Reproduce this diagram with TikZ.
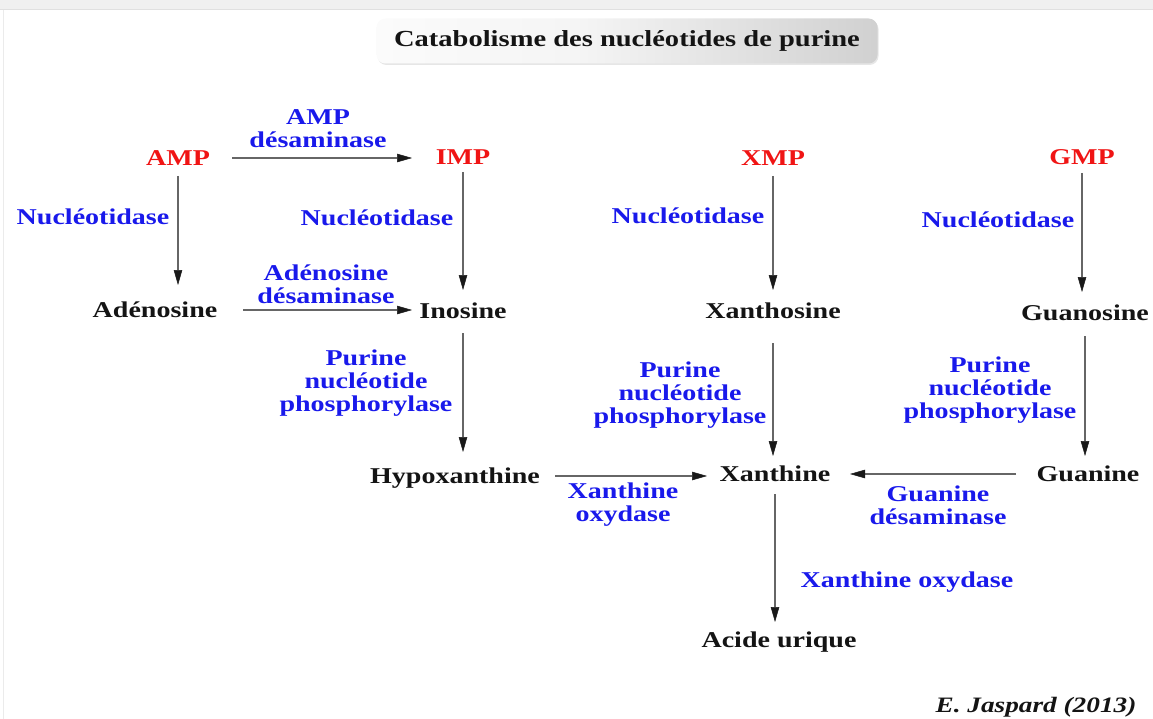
\documentclass[tikz,border=0pt]{standalone}
\usepackage{fontspec}
\setmainfont{Liberation Serif}[FakeStretch=1.24]
\usetikzlibrary{arrows.meta,shadows}
\definecolor{enzblue}{RGB}{25,25,235}
\definecolor{cpdred}{RGB}{240,20,20}
\definecolor{txtblack}{RGB}{20,20,20}
\pgfdeclarehorizontalshading{titleshade}{100bp}{color(0bp)=(black!25); color(12bp)=(white); color(45bp)=(white!96!black); color(100bp)=(black!30)}
\begin{document}
\begin{tikzpicture}[x=1pt,y=-1pt,
  cpd/.style={font=\fontsize{22.6}{23}\selectfont\bfseries, text=txtblack, inner sep=0pt, outer sep=0pt, text height=15pt, text depth=0pt},
  nmp/.style={cpd, text=cpdred},
  enz/.style={font=\fontsize{22.6}{23}\selectfont\bfseries, text=enzblue, inner sep=0pt, outer sep=0pt, align=center},
  arr/.style={draw=black!60, line width=1.7pt, -{Triangle[length=15pt,width=8.5pt,color=black!90,fill=black!90,line width=0.5pt]}}
]
\useasboundingbox (0,0) rectangle (1153,719);
% top strip and frame
\fill[black!6] (0,0) rectangle (1153,10);
\draw[black!12, line width=1pt] (0,10) -- (1153,10);
\draw[black!8, line width=1pt] (3,10) -- (3,719);
% title
\node[shading=titleshade, rounded corners=9pt, minimum width=501pt, minimum height=45pt,
      drop shadow={opacity=0.2, shadow xshift=1pt, shadow yshift=-1.5pt},
      font=\fontsize{23}{24}\selectfont\bfseries, text=txtblack] (title) at (627,41) {Catabolisme des nucléotides de purine};
% compounds
\node[nmp] (AMP) at (178,158) {AMP};
\node[nmp] (IMP) at (463,157) {IMP};
\node[nmp] (XMP) at (773,158) {XMP};
\node[nmp] (GMP) at (1082,157) {GMP};
\node[cpd] (Ado) at (155,310) {Adénosine};
\node[cpd] (Ino) at (463,311) {Inosine};
\node[cpd] (Xao) at (773,311) {Xanthosine};
\node[cpd] (Guo) at (1085,313) {Guanosine};
\node[cpd] (Hyp) at (455,476) {Hypoxanthine};
\node[cpd] (Xan) at (775,474) {Xanthine};
\node[cpd] (Gua) at (1088,474) {Guanine};
\node[cpd] (Uric) at (779,640) {Acide urique};
% enzymes
\node[enz] (e1) at (318,129) {AMP\\désaminase};
\node[enz] (e2) at (93,217) {Nucléotidase};
\node[enz] (e3) at (377,218) {Nucléotidase};
\node[enz] (e4) at (688,216) {Nucléotidase};
\node[enz] (e5) at (998,220) {Nucléotidase};
\node[enz] (e6) at (326,284) {Adénosine\\désaminase};
\node[enz] (e7) at (366,383) {Purine\\nucléotide\\phosphorylase};
\node[enz] (e8) at (680,395) {Purine\\nucléotide\\phosphorylase};
\node[enz] (e9) at (990,390) {Purine\\nucléotide\\phosphorylase};
\node[enz] (e10) at (623,505) {Xanthine\\oxydase};
\node[enz] (e11) at (938,505) {Guanine\\désaminase};
\node[enz] (e12) at (907,582) {Xanthine oxydase};
% credit
\node[font=\fontsize{22}{23}\selectfont\bfseries\itshape, text=txtblack, inner sep=0pt] (credit) at (1036,707) {E. Jaspard (2013)};
% connectors
\draw[arr, shorten <=54pt, shorten >=51pt] (AMP.center) -- (AMP.center -| IMP.center);
\draw[arr, shorten <=18pt, shorten >=25pt] (AMP.center) -- (AMP.center |- Ado.center);
\draw[arr, shorten <=15pt, shorten >=21pt] (IMP.center) -- (IMP.center |- Ino.center);
\draw[arr, shorten <=88pt, shorten >=51pt] (Ado.center) -- (Ado.center -| Ino.center);
\draw[arr, shorten <=18pt, shorten >=21pt] (XMP.center) -- (XMP.center |- Xao.center);
\draw[arr, shorten <=16pt, shorten >=21pt] (GMP.center) -- (GMP.center |- Guo.center);
\draw[arr, shorten <=22pt, shorten >=24pt] (Ino.center) -- (Ino.center |- Hyp.center);
\draw[arr, shorten <=32pt, shorten >=18pt] (Xao.center) -- (Xao.center |- Xan.center);
\draw[arr, shorten <=23pt, shorten >=18pt] (Guo.center) -- (Guo.center |- Gua.center);
\draw[arr, shorten <=100pt, shorten >=68pt] (Hyp.center) -- (Hyp.center -| Xan.center);
\draw[arr, shorten <=72pt, shorten >=75pt] (Gua.center) -- (Gua.center -| Xan.center);
\draw[arr, shorten <=20pt, shorten >=18pt] (Xan.center) -- (Xan.center |- Uric.center);
\end{tikzpicture}
\end{document}
